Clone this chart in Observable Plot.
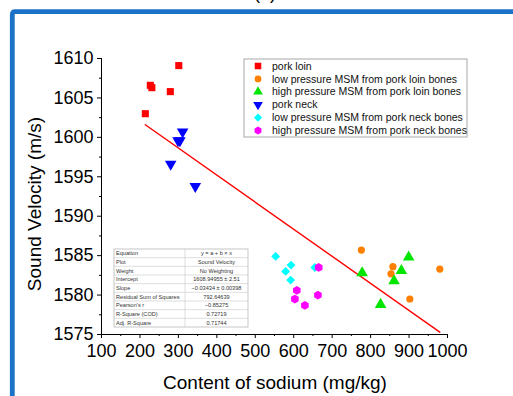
<!DOCTYPE html>
<html><head><meta charset="utf-8">
<script src="https://cdn.jsdelivr.net/npm/d3@7"></script>
<script src="https://cdn.jsdelivr.net/npm/@observablehq/plot@0.6"></script>
<style>
html,body{margin:0;padding:0;background:#fff;}
#chart{position:absolute;left:0;top:0;width:513px;height:396px;overflow:hidden;}
</style></head>
<body><div id="chart"></div>
<script>
// ---- data ----
const seriesNames = ["pork loin","low pressure MSM from pork loin bones","high pressure MSM from pork loin bones","pork neck","low pressure MSM from pork neck bones","high pressure MSM from pork neck bones"];
const seriesColors = ["#ff0000","#ff8000","#00e600","#0000ff","#00ffff","#ff00ff"];
const seriesSymbols = ["square","circle","triangle","triangle","diamond2","hexagon"];
const seriesRotate = [0,0,0,180,0,0];
const seriesR = [4,3.6,4.3,4.3,4,3.8];
const legendScale = [0.85,0.9,0.7,0.7,0.85,0.9];

const porkLoinX = [301, 227, 231, 279, 214];
const porkLoinY = [1609.1, 1606.6, 1606.3, 1605.8, 1603.0];
const lpLoinX = [776, 858, 853, 980, 902];
const lpLoinY = [1585.7, 1583.6, 1582.7, 1583.3, 1579.5];
const hpLoinX = [899, 778, 880, 861, 826];
const hpLoinY = [1584.8, 1582.8, 1583.1, 1581.8, 1578.8];
const porkNeckX = [311, 304, 299, 280, 344];
const porkNeckY = [1600.7, 1599.6, 1599.6, 1596.6, 1593.8];
const lpNeckX = [553, 593, 579, 592, 655];
const lpNeckY = [1584.9, 1583.8, 1583.0, 1581.9, 1583.5];
const hpNeckX = [665, 608, 603, 663, 629];
const hpNeckY = [1583.5, 1580.6, 1579.5, 1580.0, 1578.7];

const fitIntercept = 1608.94955;
const fitSlope = -0.03434;

const xTicks = [100,200,300,400,500,600,700,800,900,1000];
const xMinor = [150,250,350,450,550,650,750,850,950];
const yTicks = [1575,1580,1585,1590,1595,1600,1605,1610];
const yMinor = [1577.5,1582.5,1587.5,1592.5,1597.5,1602.5,1607.5];

const tableLabels = ["Equation","Plot","Weight","Intercept","Slope","Residual Sum of Squares","Pearson's r","R-Square (COD)","Adj. R-Square"];
const tableValues = ["y = a + b × x","Sound Velocity","No Weighting","1608.94955 ± 2.51","−0.03434 ± 0.00398","792.64639","−0.85275","0.72719","0.71744"];

const xTitle = "Content of sodium (mg/kg)";
const yTitle = "Sound Velocity (m/s)";

// ---- build ----
const groups = [[porkLoinX,porkLoinY],[lpLoinX,lpLoinY],[hpLoinX,hpLoinY],[porkNeckX,porkNeckY],[lpNeckX,lpNeckY],[hpNeckX,hpNeckY]];
const pts = groups.flatMap(([xs,ys],i)=>xs.map((x,j)=>({x, y: ys[j], s: i})));
const allX = pts.map(d=>d.x);
const fitLine = [d3.min(allX), d3.max(allX)].map(x=>({x, y: fitIntercept + fitSlope*x}));

const W=513, H=396, mL=101, mR=66, mT=58, mB=62;
const font = "'Liberation Sans', Arial, Helvetica, sans-serif";

const plot = Plot.plot({
  width: W, height: H, marginLeft: mL, marginRight: mR, marginTop: mT, marginBottom: mB,
  x: {domain: [100,1000]},
  y: {domain: [1575,1610]},
  style: {fontFamily: font, fontSize: "18px", color: "#000", background: "transparent", overflow: "visible"},
  marks: [
    Plot.axisX({ticks: xTicks, tickSize: 4, tickPadding: 6, label: null, tickFormat: d=>String(d), stroke: "#000"}),
    Plot.axisX({ticks: xMinor, tickSize: 2, label: null, tickFormat: ()=>"", stroke: "#000"}),
    Plot.axisY({ticks: yTicks, tickSize: 4, tickPadding: 4, label: null, tickFormat: d=>String(d), stroke: "#000"}),
    Plot.axisY({ticks: yMinor, tickSize: 2, label: null, tickFormat: ()=>"", stroke: "#000"}),
    Plot.ruleY([1575], {stroke: "#000"}),
    Plot.ruleX([100], {stroke: "#000"}),
    Plot.line(fitLine, {x: "x", y: "y", stroke: "#ff0000", strokeWidth: 1.4}),
    ...seriesNames.map((n,i)=>Plot.dot(pts.filter(d=>d.s===i), {
      x: "x", y: "y", symbol: seriesSymbols[i], fill: seriesColors[i], stroke: "none",
      r: seriesR[i], rotate: seriesRotate[i]
    }))
  ]
});

document.getElementById("chart").appendChild(plot);
const svg = d3.select(plot);

// blue frame (cropped figure panel border)
svg.insert("path", ":first-child")
  .attr("d", `M12.3,${H+5} V15 Q12.3,11.7 15,11.7 H${W+5}`)
  .attr("fill","none").attr("stroke","#1c72c6").attr("stroke-width",4.8);

// panel tag (cut off at top)
svg.append("text").attr("x",265).attr("y",-1.5).attr("text-anchor","middle")
  .attr("font-size",18).attr("font-family",font).text("(a)");

// axis titles
svg.append("text").attr("x",275).attr("y",389).attr("text-anchor","middle")
  .attr("font-size",19).attr("font-family",font).attr("fill","#000").text(xTitle);
svg.append("text").attr("transform","translate(41,204) rotate(-90)").attr("text-anchor","middle")
  .attr("font-size",19).attr("font-family",font).attr("fill","#000").text(yTitle);

// legend
const lg = svg.append("g").attr("font-family",font).attr("text-anchor","start");
const lx=244, ly=59, lw=223, lh=78;
lg.append("rect").attr("x",lx).attr("y",ly).attr("width",lw).attr("height",lh)
  .attr("fill","#fff").attr("stroke","#a8a8a8").attr("stroke-width",1);
const hexagon = {draw(ctx,size){const r=Math.sqrt(size/(1.5*Math.sqrt(3)));for(let k=0;k<6;k++){const a=Math.PI/3*k+Math.PI/6;const px=r*Math.cos(a),py=r*Math.sin(a);k?ctx.lineTo(px,py):ctx.moveTo(px,py);}ctx.closePath();}};
const symType = {square: d3.symbolSquare, circle: d3.symbolCircle, triangle: d3.symbolTriangle, diamond2: d3.symbolDiamond2, hexagon};
seriesNames.forEach((n,i)=>{
  const yy = ly + 7 + i*12.9;
  lg.append("path").attr("d", d3.symbol(symType[seriesSymbols[i]], Math.PI*seriesR[i]*seriesR[i]*legendScale[i])())
    .attr("transform", `translate(${lx+14},${yy}) rotate(${seriesRotate[i]})`).attr("fill", seriesColors[i]);
  lg.append("text").attr("x", lx+28).attr("y", yy).attr("dy","0.35em").attr("text-anchor","start")
    .attr("font-size",10.5).attr("fill","#111").text(n);
});

// fit statistics table
const tg = svg.append("g").attr("font-family",font);
const tx=114, ty=249, tw=134, th=78, tcol=185, rh=th/tableLabels.length;
tg.append("rect").attr("x",tx).attr("y",ty).attr("width",tw).attr("height",th).attr("fill","#fff").attr("stroke","#b8b8b8").attr("stroke-width",0.8);
tableLabels.forEach((lab,i)=>{
  const y0 = ty + i*rh;
  if (i>0) tg.append("line").attr("x1",tx).attr("x2",tx+tw).attr("y1",y0).attr("y2",y0).attr("stroke","#c8c8c8").attr("stroke-width",0.6);
  tg.append("text").attr("x",tx+2).attr("y",y0+rh/2).attr("dy","0.35em").attr("text-anchor","start").attr("font-size",5.6).attr("fill","#333").text(lab);
  tg.append("text").attr("x",(tcol+tx+tw)/2).attr("y",y0+rh/2).attr("dy","0.35em").attr("text-anchor","middle").attr("font-size",5.6).attr("fill","#333").text(tableValues[i]);
});
tg.append("line").attr("x1",tcol).attr("x2",tcol).attr("y1",ty).attr("y2",ty+th).attr("stroke","#c8c8c8").attr("stroke-width",0.6);
</script>
</body></html>
